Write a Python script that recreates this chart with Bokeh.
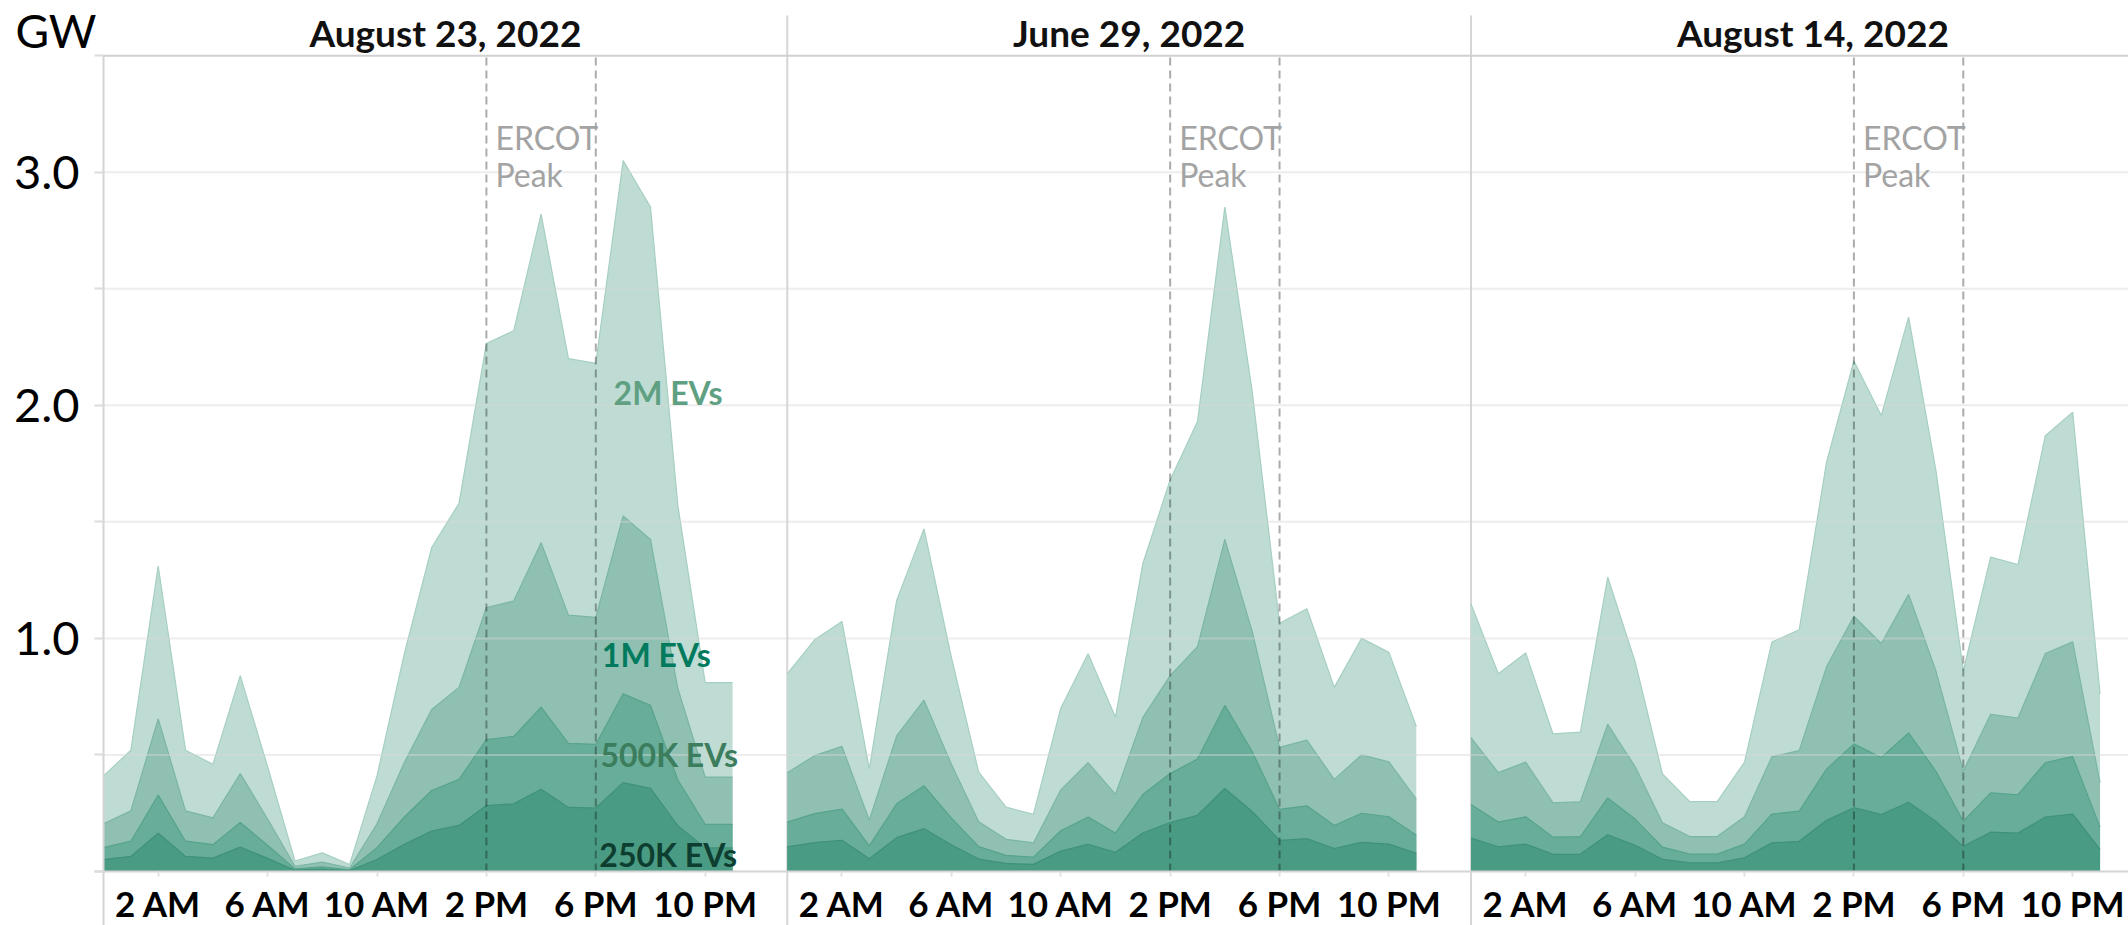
from bokeh.plotting import figure
from bokeh.models import Range1d, FixedTicker, CustomJSTickFormatter
from bokeh.embed import file_html
from bokeh.resources import INLINE
from bokeh.core.properties import value

# ---------------- data ----------------
hours = list(range(24))
panel_titles = ["August 23, 2022", "June 29, 2022", "August 14, 2022"]

# charging load (GW) for a fleet of 2M EVs
aug23_2m = [0.41, 0.52, 1.31, 0.52, 0.46, 0.84, 0.45, 0.045, 0.08, 0.03, 0.41, 0.935,
            1.39, 1.58, 2.265, 2.32, 2.82, 2.20, 2.18, 3.05, 2.85, 1.57, 0.81, 0.81]
jun29_2m = [0.848, 0.994, 1.073, 0.44, 1.163, 1.47, 0.92, 0.426, 0.276, 0.245, 0.70, 0.934,
            0.662, 1.32, 1.68, 1.93, 2.85, 2.06, 1.065, 1.127, 0.79, 1.0, 0.94, 0.622]
aug14_2m = [1.148, 0.848, 0.938, 0.59, 0.598, 1.263, 0.90, 0.419, 0.30, 0.30, 0.469, 0.984,
            1.037, 1.756, 2.19, 1.956, 2.378, 1.72, 0.862, 1.349, 1.317, 1.87, 1.97, 0.762]
panel_series = [aug23_2m, jun29_2m, aug14_2m]

fleet_labels = ["2M EVs", "1M EVs", "500K EVs", "250K EVs"]
fleet_sizes = [2_000_000, 1_000_000, 500_000, 250_000]
reference_fleet = 2_000_000

peak_window = [14, 18]          # ERCOT peak hours (2 PM - 6 PM)
tick_hours = [2, 6, 10, 14, 18, 22]
tick_labels = ["2 AM", "6 AM", "10 AM", "2 PM", "6 PM", "10 PM"]
grid_values = [0.5, 1.0, 1.5, 2.0, 2.5, 3.0]
y_ticks = [0, 0.5, 1.0, 1.5, 2.0, 2.5, 3.0, 3.5]
y_top = 3.5

# label placement (hour, GW) for the fleet labels in the first panel
fleet_label_x = [18.65, 18.22, 18.17, 18.13]
fleet_label_y = [2.055, 0.931, 0.502, 0.073]

# ---------------- style ----------------
FONT = "Lato"
PANEL_SPAN = 25
fill_colors = ["#bedcd3", "#8fc0b2", "#67ad99", "#4a9b83"]
edge_colors = ["#a6cfc2", "#7cb5a5", "#57a38c", "#3f9279"]
label_colors = ["#5fa083", "#007a5c", "#3b7d5c", "#0e3e30"]

W, H = 2128, 925
X0_PX, Y0_PX = 103, 871          # pixel position of (hour 0, 0 GW)
PX_PER_HOUR, PX_PER_GW = 27.35, 233.1
Y_MAX = Y0_PX / PX_PER_GW

p = figure(width=W, height=H,
           x_range=Range1d(-X0_PX / PX_PER_HOUR, (W - X0_PX) / PX_PER_HOUR),
           y_range=Range1d(-(H - Y0_PX) / PX_PER_GW, Y_MAX),
           output_backend="svg", toolbar_location=None,
           min_border_left=0, min_border_right=0,
           min_border_top=0, min_border_bottom=0)
p.outline_line_color = None
p.background_fill_color = "white"
p.xgrid.visible = False
p.ygrid.visible = False

# y axis (drawn at hour 0)
ya = p.yaxis[0]
ya.fixed_location = 0
ya.ticker = FixedTicker(ticks=y_ticks)
ya.formatter = CustomJSTickFormatter(
    code="return (tick > 0 && tick < 3.4 && Math.abs(tick % 1) < 1e-9) ? tick.toFixed(1) : '';")
ya.bounds = (-0.3, y_top)
ya.axis_line_color = "#d4d4d4"
ya.axis_line_width = 2
ya.major_tick_line_color = "#dcdcdc"
ya.major_tick_line_width = 2
ya.major_tick_out = 9
ya.major_tick_in = 0
ya.minor_tick_line_color = None
ya.major_label_standoff = 15
ya.major_label_text_font = FONT
ya.major_label_text_font_size = "47px"
ya.major_label_text_color = "#000000"

# x axis (drawn at 0 GW)
xa = p.xaxis[0]
xa.fixed_location = 0
all_ticks = []
overrides = {}
for i in range(3):
    for h, lbl in zip(tick_hours, tick_labels):
        t = h + PANEL_SPAN * i
        all_ticks.append(t)
        overrides[t] = lbl
xa.ticker = FixedTicker(ticks=all_ticks)
xa.major_label_overrides = overrides
xa.bounds = (-0.33, 80)
xa.axis_line_color = "#d4d4d4"
xa.axis_line_width = 2
xa.major_tick_line_color = "#e2e2e2"
xa.major_tick_line_width = 2
xa.major_tick_out = 5
xa.major_tick_in = 0
xa.minor_tick_line_color = None
xa.major_label_standoff = 5
xa.major_label_text_font = FONT
xa.major_label_text_font_style = "bold"
xa.major_label_text_font_size = "35px"
xa.major_label_text_color = "#000000"

# panel separators (full height below the titles)
p.segment(x0=[PANEL_SPAN, 2 * PANEL_SPAN], y0=[-0.3, -0.3],
          x1=[PANEL_SPAN, 2 * PANEL_SPAN], y1=[3.672, 3.672],
          line_color="#d6d6d6", line_width=2)

# areas
for i, base in enumerate(panel_series):
    xs = [h + PANEL_SPAN * i for h in hours]
    for k, fleet in enumerate(fleet_sizes):
        vals = [v * fleet / reference_fleet for v in base]
        p.varea(x=xs, y1=[0] * len(xs), y2=vals, fill_color=fill_colors[k])
        p.line(x=xs, y=vals, line_color=edge_colors[k], line_width=1.2)

# horizontal grid lines (faint, over the areas) and top border
p.segment(x0=[0] * len(grid_values), y0=grid_values, x1=[80] * len(grid_values), y1=grid_values,
          line_color="#d8d8d8", line_alpha=0.45, line_width=2)
p.segment(x0=[0], y0=[y_top], x1=[80], y1=[y_top], line_color="#d0d0d0", line_width=2)

# ERCOT peak dashed lines
dash_x = [h + PANEL_SPAN * i for i in range(3) for h in peak_window]
p.segment(x0=dash_x, y0=[0] * len(dash_x), x1=dash_x, y1=[y_top] * len(dash_x),
          line_color="black", line_alpha=0.33, line_width=2, line_dash="8 5")

peak_x = [peak_window[0] + PANEL_SPAN * i for i in range(3)]
p.text(x=peak_x, y=[3.149] * 3, text=["ERCOT"] * 3, x_offset=9,
       text_font=value(FONT), text_font_size="32px", text_color="#a3a3a3",
       text_baseline="alphabetic", text_align="left")
p.text(x=peak_x, y=[2.990] * 3, text=["Peak"] * 3, x_offset=9,
       text_font=value(FONT), text_font_size="32px", text_color="#a3a3a3",
       text_baseline="alphabetic", text_align="left")

# panel titles
p.text(x=[12.5 + PANEL_SPAN * i for i in range(3)], y=[3.5995] * 3, text=panel_titles,
       text_font=value(FONT), text_font_style="bold", text_font_size="37px",
       text_color="#111111", text_align="center", text_baseline="alphabetic")

# fleet labels
p.text(x=fleet_label_x, y=fleet_label_y, text=fleet_labels, text_color=label_colors,
       text_font=value(FONT), text_font_style="bold", text_font_size="32px",
       text_align="left", text_baseline="alphabetic")

# unit label
p.text(x=[-3.22], y=[Y_MAX - 2 / PX_PER_GW], text=["GW"], text_font=value(FONT),
       text_font_size="46px", text_color="#000000", text_baseline="top", text_align="left")

open("out.html", "w").write(file_html(p, INLINE))
